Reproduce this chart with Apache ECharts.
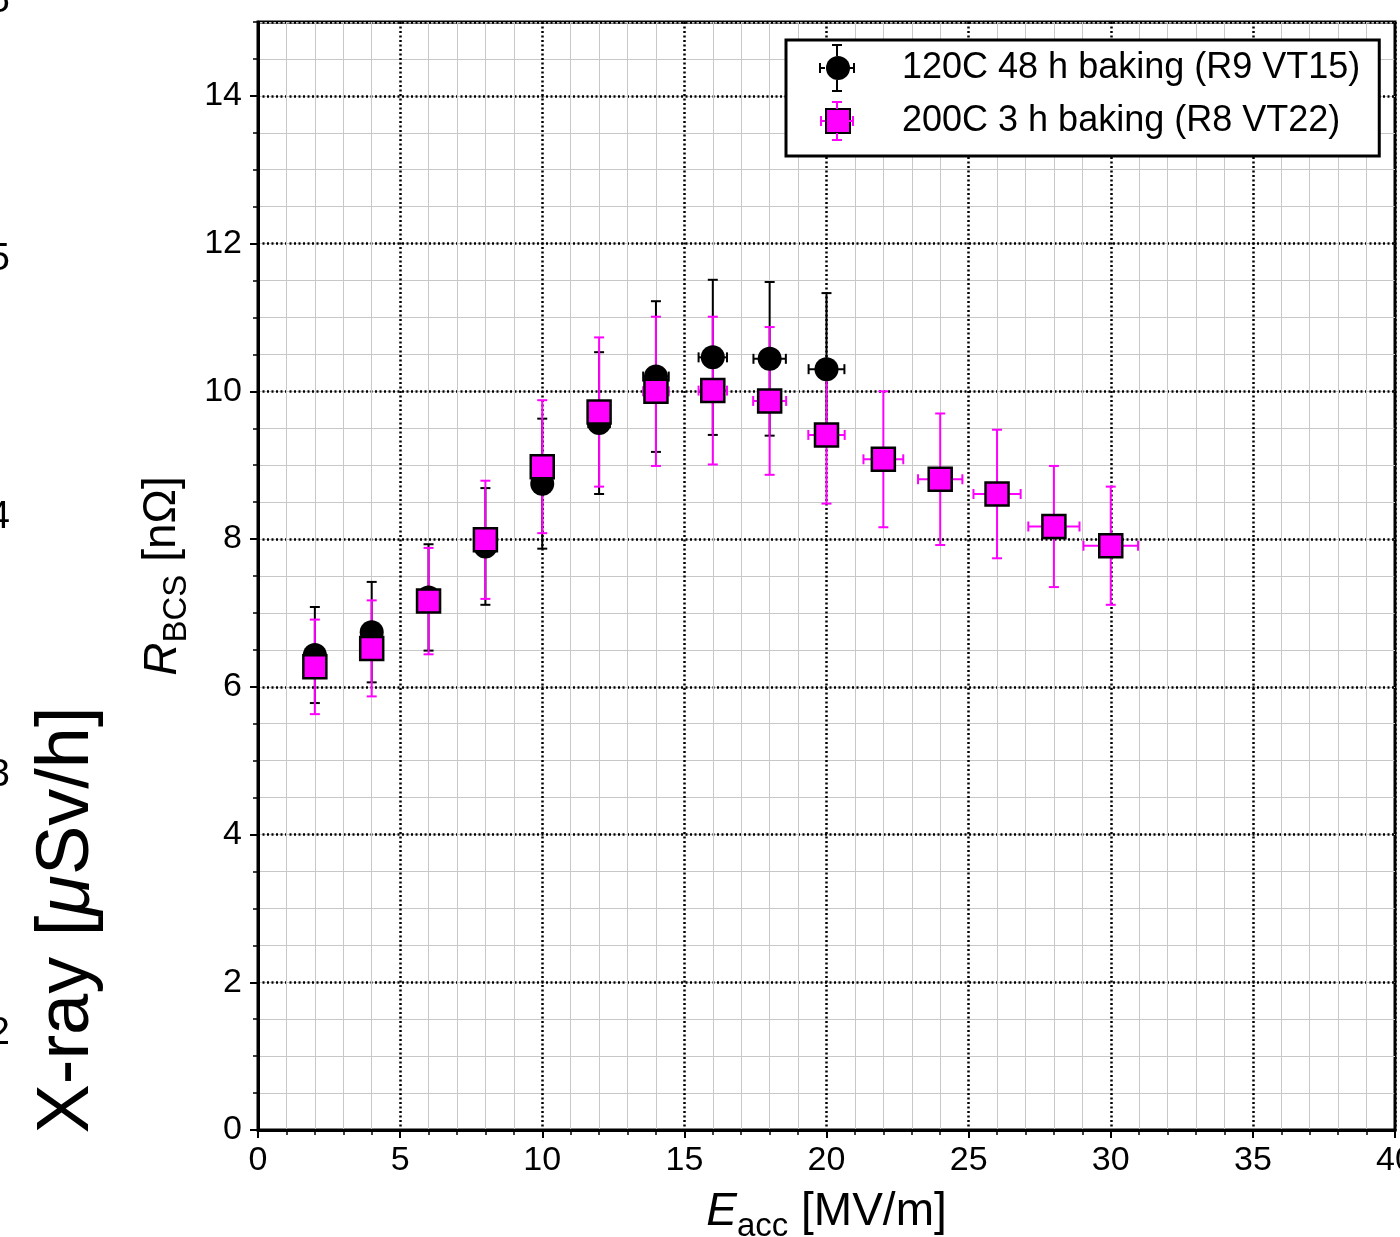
<!DOCTYPE html>
<html><head><meta charset="utf-8">
<script src="https://cdn.jsdelivr.net/npm/echarts@6/dist/echarts.min.js"></script>
<style>html,body{margin:0;padding:0;background:#fff}#c{width:1400px;height:1237px}</style>
</head><body><div id="c"></div>
<script>
const FONT = '"Liberation Sans", Arial, Helvetica, sans-serif';

// ---- data ----
const seriesNames = ['120C 48 h baking (R9 VT15)', '200C 3 h baking (R8 VT22)'];
const eacc120    = [2, 4, 6, 8, 10, 12, 14, 16, 18, 20];
const rbcs120    = [6.43, 6.74, 7.21, 7.90, 8.75, 9.57, 10.20, 10.46, 10.44, 10.30];
const rbcsErr120 = [0.65, 0.68, 0.72, 0.79, 0.88, 0.96, 1.02, 1.05, 1.04, 1.03];
const eaccErr120 = [0.06, 0.13, 0.19, 0.26, 0.32, 0.38, 0.45, 0.50, 0.57, 0.63];

const eacc200    = [2, 4, 6, 8, 10, 12, 14, 16, 18, 20, 22, 24, 26, 28, 30];
const rbcs200    = [6.27, 6.52, 7.16, 7.99, 8.98, 9.72, 10.00, 10.01, 9.87, 9.41, 9.08, 8.81, 8.61, 8.17, 7.91];
const rbcsErr200 = [0.64, 0.65, 0.72, 0.80, 0.90, 1.01, 1.01, 1.00, 1.00, 0.93, 0.92, 0.89, 0.87, 0.82, 0.80];
const eaccErr200 = [0.06, 0.13, 0.19, 0.26, 0.32, 0.38, 0.45, 0.50, 0.58, 0.64, 0.70, 0.78, 0.83, 0.90, 0.96];

// partially visible tick labels of an overlapping X-ray axis (left edge)
const xrayTickLabels = ['6', '5', '4', '3', '2'];
const xrayTickValues = [6, 5, 4, 3, 2];

// ---- helpers ----
function zip(xs, ys) { return xs.map((x, i) => [x, ys[i]]); }
function errRows(xs, ys, exs, eys) { return xs.map((x, i) => [x, ys[i], exs[i], eys[i]]); }

function errorBarRenderer(color) {
  return function (params, api) {
    const x = api.value(0), y = api.value(1), ex = api.value(2), ey = api.value(3);
    const top = api.coord([x, y + ey]), bot = api.coord([x, y - ey]);
    const lft = api.coord([x - ex, y]), rgt = api.coord([x + ex, y]);
    const cap = 5;
    const mk = (x1, y1, x2, y2) => ({ type: 'line', shape: { x1, y1, x2, y2 }, style: { stroke: color, lineWidth: 2, fill: null } });
    return { type: 'group', children: [
      mk(top[0], top[1], bot[0], bot[1]),
      mk(top[0] - cap, top[1], top[0] + cap, top[1]),
      mk(bot[0] - cap, bot[1], bot[0] + cap, bot[1]),
      mk(lft[0], lft[1], rgt[0], rgt[1]),
      mk(lft[0], lft[1] - cap, lft[0], lft[1] + cap),
      mk(rgt[0], rgt[1] - cap, rgt[0], rgt[1] + cap)
    ] };
  };
}

// legend whisker glyphs (drawn outside the legend icons)
function legendWhiskers(cx, cy, color, vHalf, hHalf, inner) {
  const cap = 5;
  const st = () => ({ stroke: color, lineWidth: 2, fill: null });
  const L = (x1, y1, x2, y2) => ({ type: 'line', z: 100, shape: { x1, y1, x2, y2 }, style: st() });
  return [
    L(cx, cy - vHalf, cx, cy - inner), L(cx, cy + inner, cx, cy + vHalf),
    L(cx - cap, cy - vHalf, cx + cap, cy - vHalf), L(cx - cap, cy + vHalf, cx + cap, cy + vHalf),
    L(cx - hHalf, cy, cx - inner, cy), L(cx + inner, cy, cx + hHalf, cy),
    L(cx - hHalf, cy - cap, cx - hHalf, cy + cap), L(cx + hHalf, cy - cap, cx + hHalf, cy + cap)
  ];
}

const graphics = [];
graphics.push({
  type: 'text', x: 68, y: 920, rotation: Math.PI / 2, z: 10,
  style: {
    text: '{n|X-ray [}{i|μ}{n|Sv/h]}',
    rich: { n: { fontSize: 74, fontFamily: FONT, fill: '#000' }, i: { fontSize: 74, fontFamily: FONT, fontStyle: 'italic', fill: '#000' } },
    align: 'center', verticalAlign: 'middle'
  }
});
xrayTickValues.forEach((v, i) => {
  graphics.push({
    type: 'text', x: 10, y: 259 + (5 - v) * 258, z: 10,
    style: { text: xrayTickLabels[i], fontSize: 39, fontFamily: FONT, fill: '#000', align: 'right', verticalAlign: 'middle' }
  });
});
legendWhiskers(837, 68, '#000', 23, 17, 12).forEach(g => graphics.push(g));
legendWhiskers(837, 121, '#ff00ff', 19, 16, 12).forEach(g => graphics.push(g));

const majorGrid = { show: true, lineStyle: { color: '#000', width: 2.5, type: [2, 2.5] } };
const minorGrid = { show: true, lineStyle: { color: '#c8c8c8', width: 1 } };

const chart = echarts.init(document.getElementById('c'), null, { renderer: 'canvas' });
chart.setOption({
  animation: false,
  backgroundColor: '#fff',
  textStyle: { fontFamily: FONT },
  grid: { left: 258, right: 5, top: 22, bottom: 107, outerBoundsMode: 'none', containLabel: false,
          show: true, borderColor: '#000', borderWidth: 3, backgroundColor: 'transparent' },
  xAxis: {
    type: 'value', min: 0, max: 40, interval: 5,
    name: '{i|E}{s|acc} [MV/m]', nameLocation: 'middle', nameGap: 52,
    nameTextStyle: { fontSize: 46, color: '#000', fontFamily: FONT,
      rich: { i: { fontSize: 46, fontStyle: 'italic', fontFamily: FONT, color: '#000' },
              s: { fontSize: 33, fontFamily: FONT, color: '#000', padding: [28, 0, 0, 0] } } },
    axisLine: { lineStyle: { color: '#000', width: 3 } },
    axisTick: { length: 8, lineStyle: { color: '#000', width: 2 } },
    minorTick: { show: true, splitNumber: 5, length: 5, lineStyle: { color: '#000', width: 1.5 } },
    axisLabel: { fontSize: 34, color: '#000', margin: 14, fontFamily: FONT },
    splitLine: majorGrid,
    minorSplitLine: minorGrid
  },
  yAxis: [
    { // fine grid + minor ticks
      type: 'value', min: 0, max: 15, interval: 0.5, position: 'left', offset: 0,
      axisLine: { show: false },
      axisTick: { length: 5, lineStyle: { color: '#000', width: 1.5 } },
      axisLabel: { show: false },
      splitLine: minorGrid
    },
    { // main axis
      type: 'value', min: 0, max: 15, interval: 2, position: 'left', offset: 0,
      name: '{i|R}{s|BCS} [nΩ]', nameLocation: 'middle', nameGap: 62, nameRotate: 90,
      nameTextStyle: { fontSize: 46, color: '#000', fontFamily: FONT,
        rich: { i: { fontSize: 46, fontStyle: 'italic', fontFamily: FONT, color: '#000' },
                s: { fontSize: 33, fontFamily: FONT, color: '#000', padding: [28, 0, 0, 0] } } },
      axisLine: { show: true, lineStyle: { color: '#000', width: 3 } },
      axisTick: { length: 8, lineStyle: { color: '#000', width: 2 } },
      axisLabel: { fontSize: 34, color: '#000', margin: 16, fontFamily: FONT, showMaxLabel: false },
      splitLine: majorGrid
    }
  ],
  legend: {
    data: seriesNames, orient: 'vertical', left: 786, top: 40,
    padding: [10, 19, 17, 39], itemWidth: 24, itemHeight: 24, itemGap: 17,
    borderColor: '#000', borderWidth: 3, backgroundColor: '#fff', borderRadius: 0,
    textStyle: { fontSize: 36, color: '#000', fontFamily: FONT, padding: [0, 0, 0, 47] },
    selectedMode: false
  },
  graphic: graphics,
  series: [
    { name: 'err120', type: 'custom', xAxisIndex: 0, yAxisIndex: 1, z: 2,
      renderItem: errorBarRenderer('#000'), encode: { x: 0, y: 1 },
      data: errRows(eacc120, rbcs120, eaccErr120, rbcsErr120) },
    { name: 'err200', type: 'custom', xAxisIndex: 0, yAxisIndex: 1, z: 3,
      renderItem: errorBarRenderer('#ff00ff'), encode: { x: 0, y: 1 },
      data: errRows(eacc200, rbcs200, eaccErr200, rbcsErr200) },
    { name: seriesNames[0], type: 'scatter', xAxisIndex: 0, yAxisIndex: 1, z: 4,
      symbol: 'circle', symbolSize: 24, itemStyle: { color: '#000', opacity: 1 },
      data: zip(eacc120, rbcs120) },
    { name: seriesNames[1], type: 'scatter', xAxisIndex: 0, yAxisIndex: 1, z: 5,
      symbol: 'rect', symbolSize: 23, itemStyle: { color: '#ff00ff', borderColor: '#000', borderWidth: 2.5, opacity: 1 },
      data: zip(eacc200, rbcs200) }
  ]
});
</script></body></html>
